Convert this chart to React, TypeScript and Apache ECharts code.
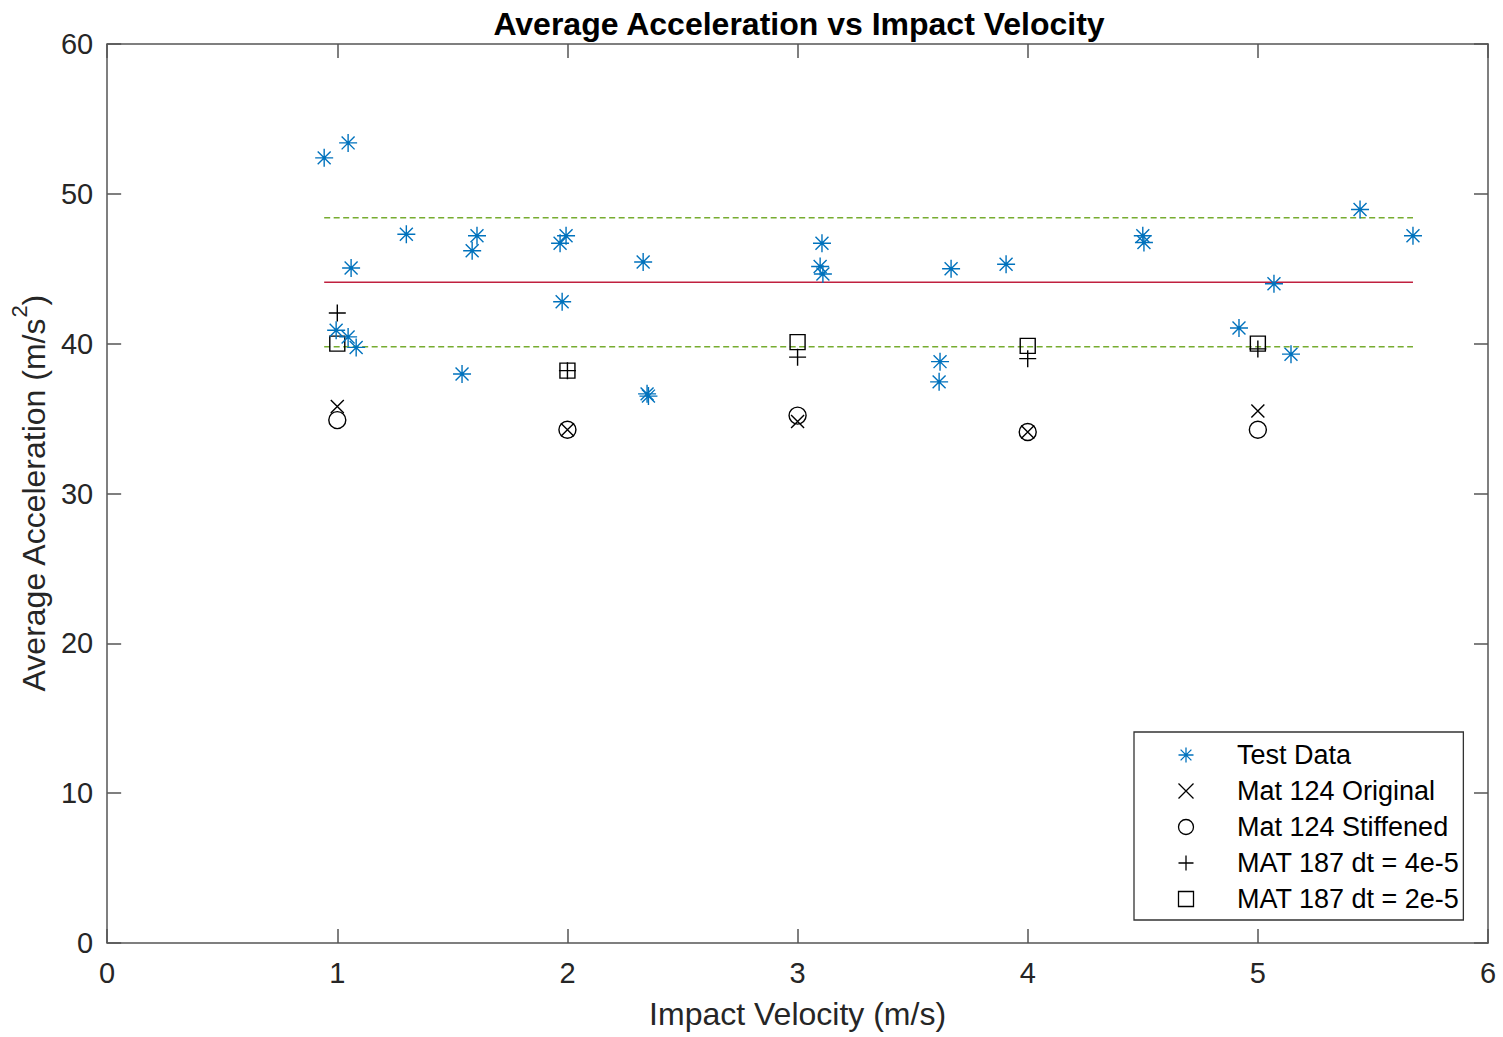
import React, { useEffect, useRef } from 'react';
import * as echarts from 'echarts';

// ---- Data ----
const testVelocity = [
  0.943, 1.047, 1.06, 0.995, 1.047, 1.082, 1.3, 1.542, 1.586, 1.607,
  1.968, 1.994, 1.977, 2.329, 2.346, 2.352, 3.106, 3.098, 3.11, 3.619,
  3.615, 3.667, 3.906, 4.5, 4.505, 4.918, 5.07, 5.144, 5.444, 5.674,
];
const testAccel = [
  52.4, 53.4, 45.05, 40.9, 40.45, 39.75, 47.3, 37.98, 46.2, 47.2,
  46.7, 47.2, 42.8, 45.45, 36.65, 36.5, 46.7, 45.15, 44.65, 38.8,
  37.45, 45.0, 45.3, 47.2, 46.75, 41.05, 44.0, 39.3, 48.95, 47.2,
];
const simVelocity = [1, 2, 3, 4, 5];
const mat124Original = [35.8, 34.25, 34.8, 34.1, 35.5];
const mat124Stiffened = [34.9, 34.25, 35.2, 34.1, 34.25];
const mat187dt4 = [42.05, 38.2, 39.1, 39.0, 39.65];
const mat187dt2 = [40.0, 38.2, 40.1, 39.85, 40.0];
const meanAccel = 44.1;
const upperBand = 48.4;
const lowerBand = 39.8;
const bandVelocityRange = [0.943, 5.674];

const seriesNames = [
  'Test Data',
  'Mat 124 Original',
  'Mat 124 Stiffened',
  'MAT 187 dt = 4e-5',
  'MAT 187 dt = 2e-5',
];

const FONT = 'Liberation Sans, Arial, Helvetica, sans-serif';
const AXIS_COLOR = '#555555';
const BLUE = '#0072BD';

const STAR = 'path://M0,-1L0,1M-1,0L1,0M-0.72,-0.72L0.72,0.72M-0.72,0.72L0.72,-0.72';
const CROSS = 'path://M-1,-1L1,1M-1,1L1,-1';
const PLUS = 'path://M0,-1L0,1M-1,0L1,0';
const CIRCLE = 'path://M1,0A1,1,0,1,1,-1,0A1,1,0,1,1,1,0Z';
const SQUARE = 'path://M-1,-1L1,-1L1,1L-1,1Z';

const pairs = (xs: number[], ys: number[]) => xs.map((x, i) => [x, ys[i]]);

export default function App() {
  const ref = useRef<HTMLDivElement>(null);

  useEffect(() => {
    if (!ref.current) return;
    const chart = echarts.init(ref.current, undefined, { renderer: 'svg' });

    const mk = (name: string, symbol: string, size: number, color: string, data: number[][], z = 3) => ({
      name,
      type: 'scatter',
      symbol,
      symbolSize: size,
      symbolKeepAspect: true,
      data,
      z,
      itemStyle: { color: 'none', borderColor: color, borderWidth: 1.4, opacity: 1 },
      emphasis: { disabled: true },
    });

    const hLine = (name: string, y: number, color: string, type: any) => ({
      name,
      type: 'line',
      data: [[bandVelocityRange[0], y], [bandVelocityRange[1], y]],
      symbol: 'none',
      lineStyle: { color, width: 1.5, type },
      z: 2,
      silent: true,
    });

    const legendIcons = [STAR, CROSS, CIRCLE, PLUS, SQUARE];
    const legendColors = [BLUE, '#000', '#000', '#000', '#000'];

    const axisCommon = {
      min: 0,
      axisLine: { show: true, onZero: false, lineStyle: { color: AXIS_COLOR, width: 1.5 } },
      axisTick: { show: true, inside: true, length: 14, lineStyle: { color: AXIS_COLOR, width: 1.5 } },
      splitLine: { show: false },
    };

    chart.setOption({
      animation: false,
      backgroundColor: '#ffffff',
      title: {
        text: 'Average Acceleration vs Impact Velocity',
        left: 794,
        top: 3,
        textAlign: 'center',
        textStyle: { fontFamily: FONT, fontSize: 32, fontWeight: 'bold', color: '#000' },
      },
      grid: { left: 107, right: 15, top: 44, bottom: 94, containLabel: false },
      legend: {
        orient: 'vertical',
        left: 1134,
        top: 732,
        padding: [8, 4, 6, 42],
        itemGap: 6,
        itemWidth: 92,
        itemHeight: 15,
        symbolKeepAspect: true,
        borderColor: '#333',
        borderWidth: 1.3,
        backgroundColor: '#fff',
        selectedMode: false,
        textStyle: { fontFamily: FONT, fontSize: 27, color: '#000', lineHeight: 30 },
        data: seriesNames.map((n, i) => ({
          name: n,
          icon: legendIcons[i],
          itemStyle: { color: 'none', borderColor: legendColors[i], borderWidth: 1.3 },
        })),
      },
      xAxis: [
        {
          type: 'value',
          ...axisCommon,
          max: 6,
          interval: 1,
          position: 'bottom',
          axisLabel: { fontFamily: FONT, fontSize: 29, color: '#262626', margin: 15 },
          name: 'Impact Velocity (m/s)',
          nameLocation: 'middle',
          nameGap: 55,
          nameTextStyle: { fontFamily: FONT, fontSize: 32, color: '#262626' },
        },
        {
          type: 'value',
          ...axisCommon,
          max: 6,
          interval: 1,
          position: 'top',
          axisLabel: { show: false },
        },
      ],
      yAxis: [
        {
          type: 'value',
          ...axisCommon,
          max: 60,
          interval: 10,
          position: 'left',
          axisLabel: { fontFamily: FONT, fontSize: 29, color: '#262626', margin: 14 },
          name: '{n|Average Acceleration (m/s}{s|2}{n|)}',
          nameLocation: 'middle',
          nameGap: 45,
          nameRotate: 90,
          nameTextStyle: {
            rich: {
              n: { fontFamily: FONT, fontSize: 32, color: '#262626', lineHeight: 42, verticalAlign: 'bottom' },
              s: { fontFamily: FONT, fontSize: 22, color: '#262626', lineHeight: 42, verticalAlign: 'top' },
            },
          },
        },
        {
          type: 'value',
          ...axisCommon,
          max: 60,
          interval: 10,
          position: 'right',
          axisLabel: { show: false },
        },
      ],
      series: [
        hLine('mean', meanAccel, '#C0203F', 'solid'),
        hLine('upper', upperBand, '#77AC30', [6, 3.5]),
        hLine('lower', lowerBand, '#77AC30', [6, 3.5]),
        mk(seriesNames[0], STAR, 18, BLUE, pairs(testVelocity, testAccel), 4),
        mk(seriesNames[1], CROSS, 13, '#000', pairs(simVelocity, mat124Original)),
        mk(seriesNames[2], CIRCLE, 17, '#000', pairs(simVelocity, mat124Stiffened)),
        mk(seriesNames[3], PLUS, 17, '#000', pairs(simVelocity, mat187dt4)),
        mk(seriesNames[4], SQUARE, 15, '#000', pairs(simVelocity, mat187dt2)),
      ],
    });

    return () => chart.dispose();
  }, []);

  return (
    <div
      ref={ref}
      style={{ position: 'absolute', left: 0, top: 0, width: 1503, height: 1037, background: '#fff' }}
    />
  );
}
